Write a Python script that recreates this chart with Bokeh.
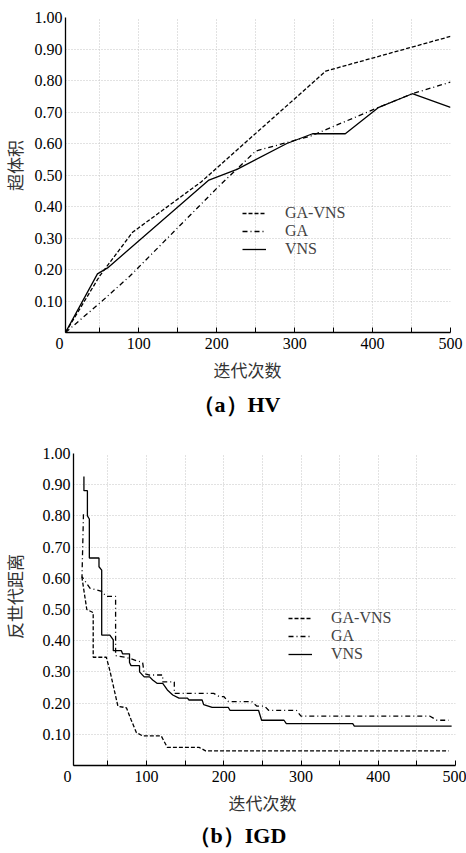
import math
from bokeh.plotting import figure
from bokeh.models import (FixedTicker, PrintfTickFormatter, CustomJSTickFormatter, Title, Legend,
                          LegendItem, Range1d, Label)
from bokeh.layouts import column, row
from bokeh.embed import file_html
from bokeh.resources import INLINE

# ---------------- data: (a) HV ----------------
hv_gavns_x = [6, 50, 92, 180, 340, 500]
hv_gavns_y = [0.0, 0.18, 0.318, 0.478, 0.83, 0.94]
hv_ga_x = [6, 53, 89, 201, 250, 321, 408, 451, 500]
hv_ga_y = [0.0, 0.10, 0.18, 0.46, 0.576, 0.624, 0.715, 0.758, 0.795]
hv_vns_x = [6, 47, 60, 190, 226, 290, 323, 365, 408, 451, 500]
hv_vns_y = [0.0, 0.186, 0.205, 0.484, 0.518, 0.60, 0.631, 0.631, 0.715, 0.758, 0.715]

# ---------------- data: (b) IGD ----------------
igd_gavns_x = [16.3, 22.7, 31, 31, 48, 52.5, 63, 74, 80, 87, 95, 119, 127, 168, 176.5, 491]
igd_gavns_y = [0.605, 0.50, 0.49, 0.347, 0.347, 0.305, 0.19, 0.185, 0.147, 0.105, 0.095, 0.095,
               0.058, 0.058, 0.047, 0.047]
igd_ga_x = [18.4, 16.5, 27, 42, 48, 60, 60, 72, 80, 87, 95, 97, 104, 121, 121, 136, 136, 187, 194,
            200, 206, 236, 243, 253, 258, 294, 300, 467, 476, 491]
igd_ga_y = [0.805, 0.605, 0.568, 0.558, 0.542, 0.542, 0.352, 0.347, 0.342, 0.336, 0.33, 0.295, 0.29,
            0.29, 0.268, 0.268, 0.231, 0.231, 0.221, 0.221, 0.205, 0.205, 0.19, 0.19, 0.177, 0.177,
            0.158, 0.158, 0.145, 0.145]
igd_vns_x = [19, 19, 23.5, 23.5, 26, 26, 38.5, 38.5, 42, 42, 52.6, 57, 57, 67.5, 69, 78, 78, 80, 91,
             91, 97, 104, 108, 114, 121, 127, 134, 142, 153, 155, 172, 174, 185, 206, 208, 245, 249,
             278, 281, 367, 369, 495]
igd_vns_y = [0.926, 0.881, 0.881, 0.80, 0.79, 0.665, 0.665, 0.637, 0.626, 0.418, 0.418, 0.403, 0.368,
             0.368, 0.358, 0.358, 0.33, 0.32, 0.32, 0.30, 0.284, 0.284, 0.274, 0.263, 0.263, 0.242,
             0.226, 0.216, 0.216, 0.21, 0.21, 0.195, 0.186, 0.186, 0.177, 0.177, 0.145, 0.145, 0.134,
             0.134, 0.126, 0.126]

series_names = ["GA-VNS", "GA", "VNS"]
x_major = [100, 200, 300, 400, 500]
x_minor = [50, 150, 250, 350, 450]
y_ticks = [0.1, 0.2, 0.3, 0.4, 0.5, 0.6, 0.7, 0.8, 0.9, 1.0]
origin_label = "0"
x_title = "迭代次数"

SERIF = "Liberation Serif"
CJK = "Noto Sans CJK SC"
DASH = "4 2"
DASHDOT = "5 3 1 3"
GRID = "#c4c4c4"
NBSP = "\u00a0"
SIDE_W = 28


def make_fig(height, x_start, bl, br, bt, bb):
    p = figure(width=466 - SIDE_W, height=height, x_range=Range1d(x_start, 500),
               y_range=Range1d(0, 1), output_backend="svg", toolbar_location=None,
               min_border_left=bl, min_border_right=br, min_border_top=bt, min_border_bottom=bb)
    p.outline_line_color = None
    p.background_fill_color = "white"
    p.border_fill_color = "white"
    p.xaxis.ticker = FixedTicker(ticks=[x_start + 0.01] + x_major, minor_ticks=x_minor)
    p.xaxis.formatter = CustomJSTickFormatter(
        args=dict(origin=origin_label + NBSP * 3),
        code="return tick < 50 ? origin : tick.toFixed(0);")
    p.yaxis.ticker = FixedTicker(ticks=y_ticks)
    p.yaxis.formatter = PrintfTickFormatter(format="%.2f")
    for ax in (p.xaxis[0], p.yaxis[0]):
        ax.axis_line_color = "black"
        ax.axis_line_width = 1.3
        ax.major_label_text_font = SERIF
        ax.major_label_text_font_size = "16px"
        ax.major_label_text_color = "black"
    p.xaxis.major_tick_in = 5
    p.xaxis.major_tick_out = 0
    p.xaxis.minor_tick_in = 5
    p.xaxis.minor_tick_out = 0
    p.xaxis.major_tick_line_color = "black"
    p.xaxis.minor_tick_line_color = "black"
    p.xaxis.major_label_standoff = 2
    p.yaxis.major_tick_in = 0
    p.yaxis.major_tick_out = 0
    p.yaxis.minor_tick_line_color = None
    p.yaxis.major_label_standoff = 3
    for g in (p.xgrid[0], p.ygrid[0]):
        g.grid_line_color = GRID
        g.grid_line_dash = "1 2"
        g.grid_line_width = 1
    p.xgrid.minor_grid_line_color = GRID
    p.xgrid.minor_grid_line_dash = "1 2"
    return p


def side_fig(height, text, y_in_frame):
    # this narrow figure's frame is aligned with the neighbouring plot's frame
    s = figure(width=SIDE_W, height=height, x_range=Range1d(0, 1), y_range=Range1d(0, 1),
               x_axis_type=None, y_axis_type=None, output_backend="svg", toolbar_location=None,
               min_border=0)
    s.grid.visible = False
    s.outline_line_color = None
    s.border_fill_color = "white"
    s.add_layout(Label(x=14, y=y_in_frame, x_units="screen", y_units="screen", text=text,
                       angle=math.pi / 2, text_align="center", text_baseline="middle",
                       text_font=CJK, text_font_size="17px", text_color="#333333"))
    return s


def add_lines(p, xs_list, ys_list, legend_loc):
    dashes = [DASH, DASHDOT, "solid"]
    items = []
    for name, xs, ys, d in zip(series_names, xs_list, ys_list, dashes):
        r = p.line(xs, ys, line_color="black", line_width=1.3, line_dash=d)
        items.append(LegendItem(label=name, renderers=[r]))
    leg = Legend(items=items, location=legend_loc, glyph_width=24, glyph_height=16,
                 label_height=16, label_standoff=19, spacing=0, padding=0, margin=0,
                 label_text_font=SERIF, label_text_font_size="16px",
                 border_line_color=None, background_fill_alpha=0)
    p.add_layout(leg)


def add_titles(p, x_off, cap, cap_off, cap_std):
    p.add_layout(Title(text=x_title, align="left", offset=x_off, standoff=0,
                       text_font=CJK, text_font_size="17px", text_font_style="normal",
                       text_color="#333333"), "below")
    p.add_layout(Title(text=cap, align="left", offset=cap_off, standoff=cap_std,
                       text_font=SERIF, text_font_size="22px", text_font_style="bold",
                       text_color="black"), "below")


# ---------- (a) HV ----------
p1 = make_fig(425, 6, 65 - SIDE_W, 16, 17, 93)
add_lines(p1, [hv_gavns_x, hv_ga_x, hv_vns_x], [hv_gavns_y, hv_ga_y, hv_vns_y], (177, 74))
add_titles(p1, 148, "（a）HV", 127, 17)
s1 = side_fig(425, "超体积", 167)

# ---------- (b) IGD ----------
p2 = make_fig(428, 5.5, 73 - SIDE_W, 11, 28, 83)
add_lines(p2, [igd_gavns_x, igd_ga_x, igd_vns_x], [igd_gavns_y, igd_ga_y, igd_vns_y], (215, 102))
add_titles(p2, 155, "（b）IGD", 115, 12)
s2 = side_fig(428, "反世代距离", 169)

layout = column(row(s1, p1, spacing=0), row(s2, p2, spacing=0), spacing=0)
open("out.html", "w").write(file_html(layout, INLINE))
